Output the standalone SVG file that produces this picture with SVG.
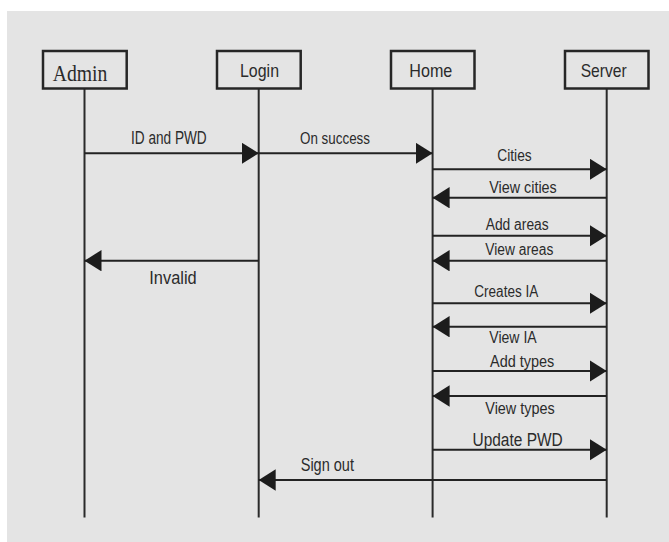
<svg xmlns="http://www.w3.org/2000/svg" width="669" height="542" viewBox="0 0 669 542">
<style>
.box{fill:#e4e4e4;stroke:#262626;stroke-width:2.5}
.life{stroke:#2a2a2a;stroke-width:2}
.msg{stroke:#222;stroke-width:2;fill:none;marker-end:url(#ah)}
.t{font-family:"Liberation Sans",Arial,sans-serif;fill:#2b2b2b;font-size:16px}
.tb{font-size:17.5px}
.tn{font-family:"Liberation Sans",Arial,sans-serif;fill:#2b2b2b;font-size:19px}
.ts{font-family:"Liberation Serif","Times New Roman",serif;fill:#2b2b2b;font-size:23px}
</style>
<defs>
<marker id="ah" markerUnits="userSpaceOnUse" markerWidth="18" markerHeight="22" refX="17" refY="10.7" orient="auto">
<path d="M0,0 L17,10.7 L0,21.4 Z" fill="#1c1c1c"/>
</marker>
</defs>
<rect x="0" y="0" width="669" height="542" fill="#ffffff"/>
<rect x="7" y="11" width="662" height="531" fill="#e4e4e4"/>

<g id="admin">
<line class="life" x1="84.5" y1="88.5" x2="84.5" y2="517.5"/>
<rect class="box" x="43" y="51" width="83.7" height="37.5"/>
<text class="ts" x="52.7" y="81" textLength="54.6" lengthAdjust="spacingAndGlyphs">Admin</text>
</g>
<g id="login">
<line class="life" x1="258.7" y1="88.5" x2="258.7" y2="517.5"/>
<rect class="box" x="217" y="51" width="83.7" height="37.5"/>
<text class="tn" x="240" y="76.5" textLength="39" lengthAdjust="spacingAndGlyphs">Login</text>
</g>
<g id="home">
<line class="life" x1="432.6" y1="88.5" x2="432.6" y2="517.5"/>
<rect class="box" x="391" y="51" width="83.5" height="37.5"/>
<text class="tn" x="409.3" y="77" textLength="43" lengthAdjust="spacingAndGlyphs">Home</text>
</g>
<g id="server">
<line class="life" x1="606.7" y1="88.5" x2="606.7" y2="517.5"/>
<rect class="box" x="565" y="51" width="83.5" height="37.5"/>
<text class="tn" x="580.7" y="77" textLength="46" lengthAdjust="spacingAndGlyphs">Server</text>
</g>

<g id="connectors">
<g><line class="msg" x1="84.5" y1="153.3" x2="258.7" y2="153.3"/>
<text class="t tb" x="131" y="144.3" textLength="75.7" lengthAdjust="spacingAndGlyphs">ID and PWD</text></g>
<g><line class="msg" x1="258.7" y1="153.3" x2="432.6" y2="153.3"/>
<text class="t" x="300" y="144.3" textLength="70" lengthAdjust="spacingAndGlyphs">On success</text></g>
<g><line class="msg" x1="258.7" y1="260.7" x2="84.5" y2="260.7"/>
<text class="t tb" x="149.3" y="284.3" textLength="47.4" lengthAdjust="spacingAndGlyphs">Invalid</text></g>
<g><line class="msg" x1="432.6" y1="169.3" x2="606.7" y2="169.3"/>
<text class="t" x="497.3" y="161" textLength="34.4" lengthAdjust="spacingAndGlyphs">Cities</text></g>
<g><line class="msg" x1="606.7" y1="197.7" x2="432.6" y2="197.7"/>
<text class="t" x="489.3" y="192.7" textLength="67.4" lengthAdjust="spacingAndGlyphs">View cities</text></g>
<g><line class="msg" x1="432.6" y1="235.7" x2="606.7" y2="235.7"/>
<text class="t" x="485.7" y="230" textLength="63" lengthAdjust="spacingAndGlyphs">Add areas</text></g>
<g><line class="msg" x1="606.7" y1="260.7" x2="432.6" y2="260.7"/>
<text class="t" x="485.3" y="255" textLength="68" lengthAdjust="spacingAndGlyphs">View areas</text></g>
<g><line class="msg" x1="432.6" y1="303.3" x2="606.7" y2="303.3"/>
<text class="t" x="474.3" y="297.3" textLength="64" lengthAdjust="spacingAndGlyphs">Creates IA</text></g>
<g><line class="msg" x1="606.7" y1="326.7" x2="432.6" y2="326.7"/>
<text class="t" x="489.3" y="343.3" textLength="47.4" lengthAdjust="spacingAndGlyphs">View IA</text></g>
<g><line class="msg" x1="432.6" y1="371" x2="606.7" y2="371"/>
<text class="t" x="490" y="366.7" textLength="64.3" lengthAdjust="spacingAndGlyphs">Add types</text></g>
<g><line class="msg" x1="606.7" y1="396" x2="432.6" y2="396"/>
<text class="t" x="485.3" y="414.3" textLength="69.4" lengthAdjust="spacingAndGlyphs">View types</text></g>
<g><line class="msg" x1="432.6" y1="449.7" x2="606.7" y2="449.7"/>
<text class="t" style="font-size:18px" x="472.5" y="445.7" textLength="90.2" lengthAdjust="spacingAndGlyphs">Update PWD</text></g>
<g><line class="msg" x1="606.7" y1="480" x2="258.7" y2="480"/>
<text class="t tb" x="300.7" y="470.7" textLength="53.3" lengthAdjust="spacingAndGlyphs">Sign out</text></g>
</g>
</svg>
